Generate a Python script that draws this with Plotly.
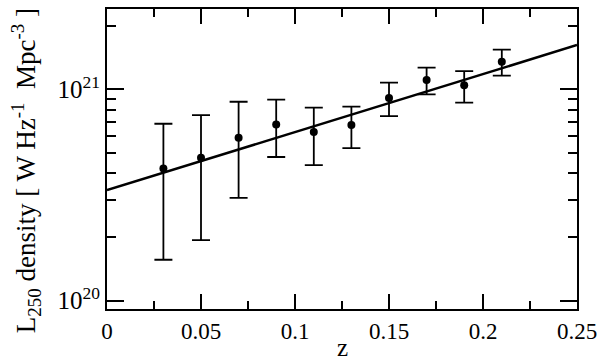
import plotly.graph_objects as go

z = [0.03, 0.05, 0.07, 0.09, 0.11, 0.13, 0.15, 0.17, 0.19, 0.21]
density = [4.22e20, 4.74e20, 5.9e20, 6.82e20, 6.28e20, 6.78e20, 9.1e20, 1.107e21, 1.045e21, 1.35e21]
upper = [6.87e20, 7.54e20, 8.73e20, 8.93e20, 8.18e20, 8.28e20, 1.075e21, 1.265e21, 1.22e21, 1.54e21]
lower = [1.56e20, 1.93e20, 3.06e20, 4.78e20, 4.38e20, 5.27e20, 7.47e20, 9.47e20, 8.64e20, 1.16e21]

fit_z = [0.0, 0.25]
fit_density = [3.33e20, 1.62e21]

x_ticks = [0, 0.05, 0.1, 0.15, 0.2, 0.25]
x_ticktext = ["0", "0.05", "0.1", "0.15", "0.2", "0.25"]
y_ticks = [1e20, 1e21]
y_ticktext = ["10<sup>20</sup>", "10<sup>21</sup>"]
y_minor = [k * 1e20 for k in range(2, 10)] + [2e21]
y_title = "L<sub>250</sub> density [ W Hz<sup>-1</sup>  Mpc<sup>-3</sup> ]"
x_title = "z"

err_plus = [u - d for u, d in zip(upper, density)]
err_minus = [d - l for d, l in zip(density, lower)]

fig = go.Figure()
fig.add_trace(go.Scatter(
    x=fit_z, y=fit_density, mode="lines",
    line=dict(color="black", width=2.5), showlegend=False, hoverinfo="skip"))
fig.add_trace(go.Scatter(
    x=z, y=density, mode="markers",
    marker=dict(color="black", size=8),
    error_y=dict(type="data", symmetric=False, array=err_plus, arrayminus=err_minus,
                 color="black", thickness=1.8, width=9),
    showlegend=False))

font = "Liberation Serif"
fig.update_layout(
    width=600, height=362,
    margin=dict(l=107, r=23, t=9, b=53, autoexpand=False),
    paper_bgcolor="white", plot_bgcolor="white",
    font=dict(family=font, color="black", size=20),
)
fig.update_xaxes(
    range=[0, 0.25], tickvals=x_ticks, ticktext=x_ticktext,
    ticks="inside", ticklen=15, tickwidth=1.8, tickcolor="black",
    showline=True, linecolor="black", linewidth=2, mirror="ticks",
    showgrid=False, zeroline=False, automargin=False,
    minor=dict(dtick=0.025, ticks="inside", ticklen=8, tickwidth=1.8, tickcolor="black", showgrid=False),
    tickfont=dict(size=23),
)
fig.update_yaxes(
    type="log", range=[19.96, 21.38],
    tickvals=y_ticks, ticktext=y_ticktext,
    ticks="inside", ticklen=17, tickwidth=1.8, tickcolor="black",
    showline=True, linecolor="black", linewidth=2, mirror="ticks",
    showgrid=False, zeroline=False, automargin=False,
    minor=dict(tickvals=y_minor, ticks="inside", ticklen=9, tickwidth=1.8, tickcolor="black", showgrid=False),
    tickfont=dict(size=25),
)
fig.add_annotation(text=y_title, xref="paper", yref="paper",
                   x=-0.172, y=0.46, xanchor="center", yanchor="middle",
                   textangle=-90, showarrow=False, font=dict(size=27))
fig.add_annotation(text=x_title, xref="paper", yref="paper",
                   x=0.5, y=-0.127, xanchor="center", yanchor="middle",
                   showarrow=False, font=dict(size=25))

fig.write_html("out.html", config={"displayModeBar": False},
               post_script="document.body.style.margin='0';document.body.style.overflow='hidden';")
